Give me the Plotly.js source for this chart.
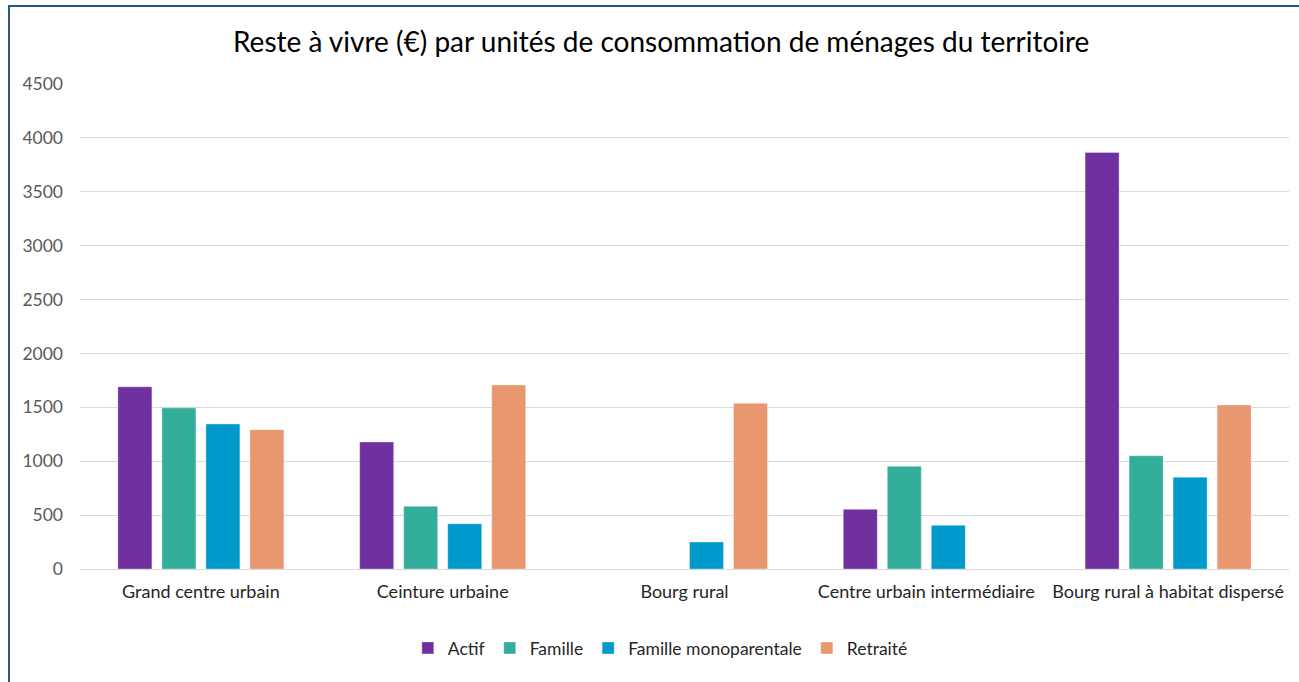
<!DOCTYPE html>
<html>
<head>
<meta charset="utf-8">
<script src="https://cdn.plot.ly/plotly-3.0.1.min.js"></script>
<style>
html,body{margin:0;padding:0;background:#fff;}
#wrap{position:relative;width:1299px;height:682px;overflow:hidden;}
#chart{position:absolute;left:0;top:0;width:1299px;height:682px;}
#frame{position:absolute;left:8px;top:5px;width:1310px;height:700px;border:2px solid #2A5A78;box-sizing:border-box;pointer-events:none;}
</style>
</head>
<body>
<div id="wrap"><div id="chart"></div><div id="frame"></div></div>
<script>
const categories = ["Grand centre urbain", "Ceinture urbaine", "Bourg rural", "Centre urbain intermédiaire", "Bourg rural à habitat dispersé"];
const actif = [1690, 1178, null, 554, 3865];
const famille = [1495, 582, null, 953, 1051];
const familleMono = [1345, 420, 250, 405, 851];
const retraite = [1293, 1707, 1537, null, 1522];
const seriesNames = ["Actif", "Famille", "Famille monoparentale", "Retraité"];
const seriesColors = ["#7030A0", "#33AE9A", "#0099CC", "#E9976F"];
const seriesValues = [actif, famille, familleMono, retraite];

const traces = seriesValues.map((vals, i) => ({
  type: "bar",
  name: seriesNames[i],
  x: categories,
  y: vals,
  marker: {color: seriesColors[i], line: {color: "rgba(255,255,255,0.35)", width: 1}},
  hoverinfo: "x+y+name"
}));

const layout = {
  width: 1299, height: 682,
  margin: {l: 80, r: 10, t: 84, b: 113},
  paper_bgcolor: "#ffffff", plot_bgcolor: "#ffffff",
  font: {family: "Lato, 'Open Sans', sans-serif", color: "#595959"},
  title: {text: "Reste à vivre (€) par unités de consommation de ménages du territoire",
          x: 0.509, xanchor: "center", y: 0.938, yanchor: "middle", xref: "container", yref: "container",
          font: {size: 28, color: "#000000", family: "Lato, 'Open Sans', sans-serif"}},
  barmode: "group",
  bargap: 0.272,
  bargroupgap: 0.227,
  xaxis: {
    type: "category",
    showgrid: false, zeroline: false,
    showline: false, ticks: "",
    tickfont: {size: 18, color: "#262626"},
    ticklabelstandoff: 10
  },
  yaxis: {
    range: [0, 4500],
    dtick: 500, tick0: 0,
    showgrid: true, gridcolor: "#D9D9D9", gridwidth: 1,
    zeroline: true, zerolinecolor: "#D9D9D9", zerolinewidth: 1,
    showline: false, ticks: "",
    tickfont: {size: 17.5, color: "#595959"},
    ticklabelstandoff: 16
  },
  showlegend: true,
  legend: {orientation: "h", x: 0.48, xanchor: "center", y: -0.163, yanchor: "middle",
           font: {size: 17.5, color: "#262626"}, itemwidth: 30, traceorder: "normal"}
};

Plotly.newPlot("chart", traces, layout, {displayModeBar: false, staticPlot: true});
</script>
</body>
</html>
